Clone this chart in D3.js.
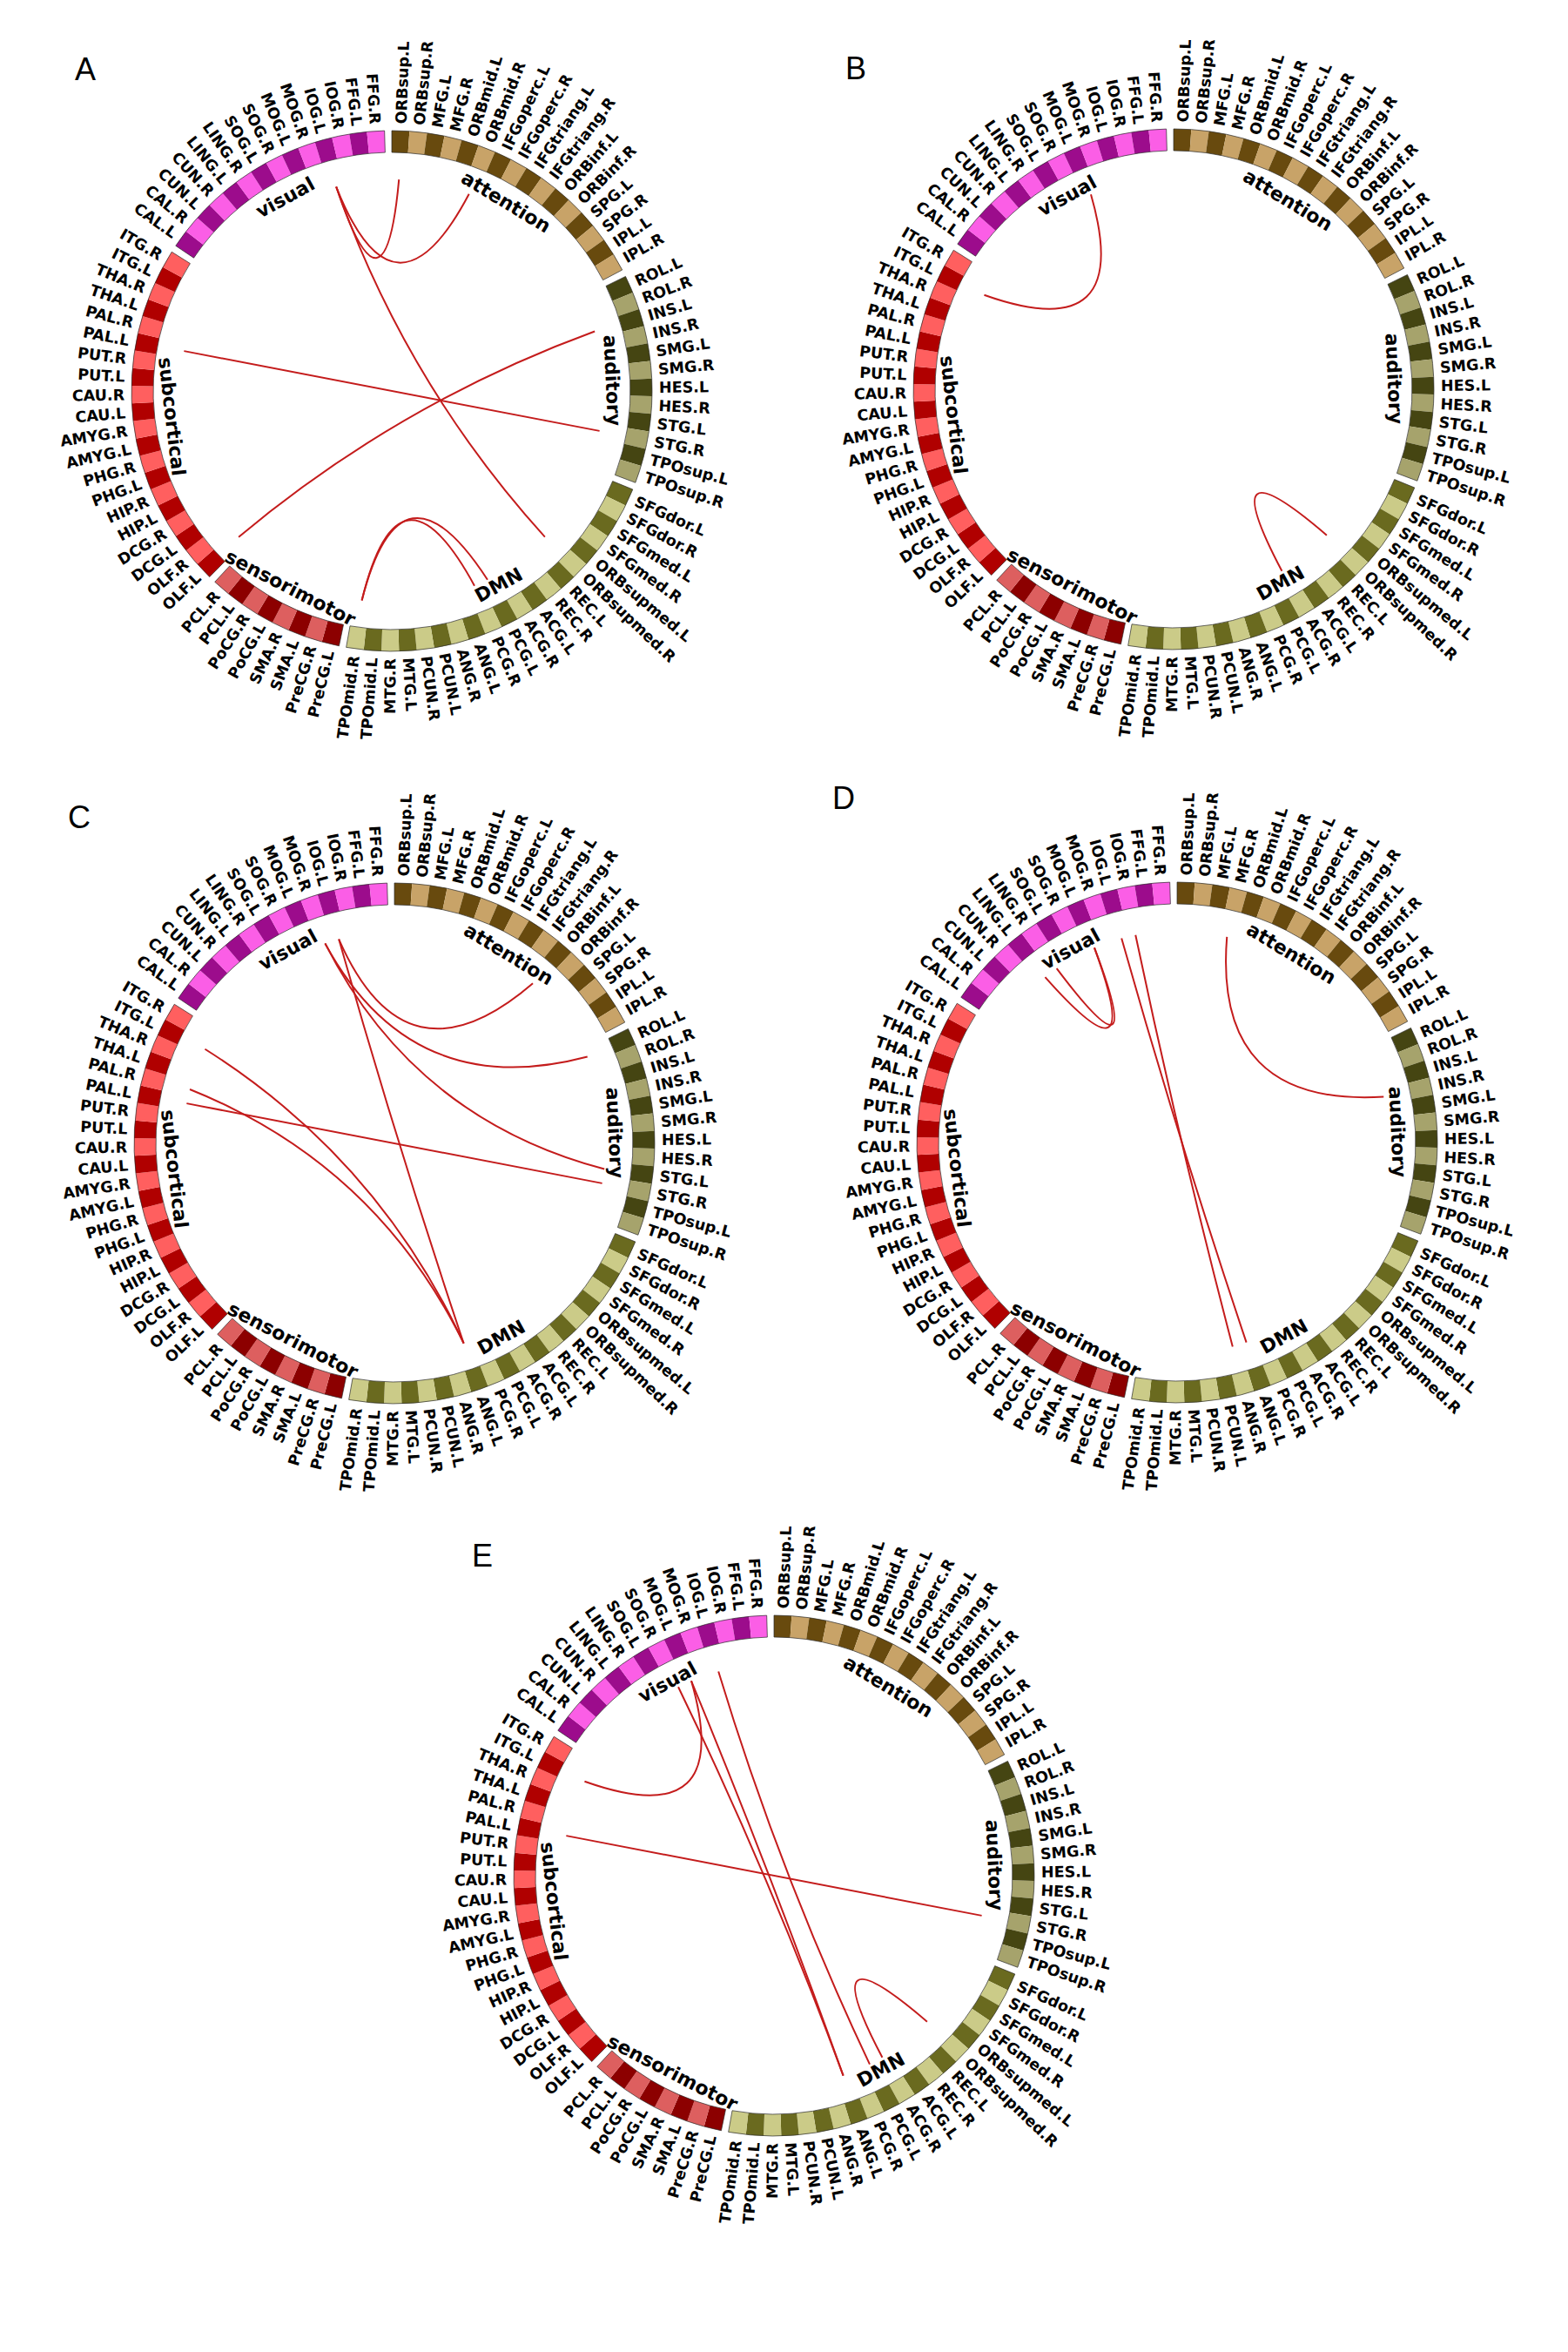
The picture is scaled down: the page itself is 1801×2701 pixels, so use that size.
<!DOCTYPE html>
<html lang="en">
    <head>
        <meta charset="utf-8">
        <script src="https://d3js.org/d3.v7.min.js"></script>
        <title>connectograms</title>
        <style>
            body { margin: 0; background: #fff; }
        </style>
    </head>

    <body>
        <div id="plot-div"></div>
        <script>
            const width = 1801
            const height = 2701

            // AAL regions of each network, listed clockwise
            const attention = ["ORBsup.L", "ORBsup.R", "MFG.L", "MFG.R", "ORBmid.L", "ORBmid.R", "IFGoperc.L", "IFGoperc.R",
                "IFGtriang.L", "IFGtriang.R", "ORBinf.L", "ORBinf.R", "SPG.L", "SPG.R", "IPL.L", "IPL.R"]
            const auditory = ["ROL.L", "ROL.R", "INS.L", "INS.R", "SMG.L", "SMG.R", "HES.L", "HES.R", "STG.L", "STG.R", "TPOsup.L", "TPOsup.R"]
            const dmn = ["SFGdor.L", "SFGdor.R", "SFGmed.L", "SFGmed.R", "ORBsupmed.L", "ORBsupmed.R", "REC.L", "REC.R", "ACG.L", "ACG.R",
                "PCG.L", "PCG.R", "ANG.L", "ANG.R", "PCUN.L", "PCUN.R", "MTG.L", "MTG.R", "TPOmid.L", "TPOmid.R"]
            const sensorimotor = ["PreCG.L", "PreCG.R", "SMA.L", "SMA.R", "PoCG.L", "PoCG.R", "PCL.L", "PCL.R"]
            const subcortical = ["OLF.L", "OLF.R", "DCG.L", "DCG.R", "HIP.L", "HIP.R", "PHG.L", "PHG.R", "AMYG.L", "AMYG.R",
                "CAU.L", "CAU.R", "PUT.L", "PUT.R", "PAL.L", "PAL.R", "THA.L", "THA.R", "ITG.L", "ITG.R"]
            const visual = ["CAL.L", "CAL.R", "CUN.L", "CUN.R", "LING.L", "LING.R", "SOG.L", "SOG.R", "MOG.L", "MOG.R",
                "IOG.L", "IOG.R", "FFG.L", "FFG.R"]

            const networkNames = ["attention", "auditory", "DMN", "sensorimotor", "subcortical", "visual"]
            const networkRegions = [attention, auditory, dmn, sensorimotor, subcortical, visual]

            // connections shown in each panel
            const panelNames = ["A", "B", "C", "D", "E"]
            const edgesA = [["IOG.L", "ORBsup.L"], ["IOG.L", "ORBmid.R"], ["IOG.L", "ORBsupmed.R"], ["PAL.L", "STG.R"],
                ["OLF.L", "INS.L"], ["TPOmid.R", "PCG.L"], ["TPOmid.R", "PCG.R"]]
            const edgesB = [["MOG.L", "ITG.L"], ["ACG.R", "ORBsupmed.R"]]
            const edgesC = [["IOG.L", "ORBinf.L"], ["MOG.R", "ROL.L"], ["MOG.R", "STG.L"], ["IOG.L", "ANG.L"],
                ["ITG.L", "ANG.L"], ["PAL.R", "ANG.L"], ["PAL.L", "STG.R"]]
            const edgesD = [["LING.L", "MOG.L"], ["LING.R", "MOG.L"], ["IOG.L", "ANG.L"], ["IOG.R", "ANG.R"], ["MFG.R", "INS.R"]]
            const edgesE = [["MOG.L", "ITG.L"], ["SOG.R", "ANG.L"], ["MOG.L", "ANG.L"], ["IOG.L", "PCG.L"],
                ["PAL.L", "STG.R"], ["ACG.R", "ORBsupmed.R"]]
            const panelEdges = [edgesA, edgesB, edgesC, edgesD, edgesE]

            // layout + styles
            const centers = [[450, 449], [1348, 447], [453, 1313], [1352, 1312], [889, 2154]]
            const letterPos = [[98, 92], [983, 91], [91, 951], [969, 929], [554, 1799]]
            const darkColor = {attention: "#684a0e", auditory: "#454512", DMN: "#6a6a1f", sensorimotor: "#8c0000", subcortical: "#b00000", visual: "#9c0c8c"}
            const lightColor = {attention: "#c8a368", auditory: "#a6a36c", DMN: "#cbcb88", sensorimotor: "#dd5f5f", subcortical: "#ff5f5f", visual: "#fb5ee6"}

            const rInner = 274
            const rOuter = 299
            const rLabel = 307
            const rName = 254
            const rChord = 243
            const gapUnits = 0.41
            const pull = 0.28

            // one unit per region plus a small gap after each network
            let regions = []
            let nets = []
            let u = 0
            networkRegions.forEach((list, i) => {
                nets.push({name: networkNames[i], start: u, end: u + list.length})
                list.forEach((name, j) => {
                    regions.push({name: name, network: networkNames[i], idx: j, start: u + j, end: u + j + 1})
                })
                u += list.length + gapUnits
            })

            let angle = d3.scaleLinear()
                .domain([0, u])
                .range([0, 2 * Math.PI])

            let byName = {}
            regions.forEach(r => byName[r.name] = r)

            let midAngle = d => angle((d.start + d.end) / 2)
            let toDeg = a => a * 180 / Math.PI

            let arc = d3.arc()
                .innerRadius(rInner)
                .outerRadius(rOuter)
                .startAngle(d => angle(d.start))
                .endAngle(d => angle(d.end))

            let point = (name, r) => {
                let a = midAngle(byName[name])
                return [r * Math.sin(a), -r * Math.cos(a)]
            }

            var svg = d3.select("#plot-div")
                .append("svg")
                .attr("width", width)
                .attr("height", height)
                .attr("viewBox", [0, 0, width, height])

            svg.append("rect")
                .attr("width", width)
                .attr("height", height)
                .attr("fill", "#fff")

            let drawPanel = (k) => {
                let g = svg.append("g")
                    .attr("transform", `translate(${centers[k][0]},${centers[k][1]})`)

                // ring segments
                g.append("g")
                    .selectAll("path")
                    .data(regions)
                    .join("path")
                    .attr("d", arc)
                    .attr("fill", d => d.idx % 2 === 0 ? darkColor[d.network] : lightColor[d.network])

                g.append("g")
                    .selectAll("path")
                    .data(nets)
                    .join("path")
                    .attr("d", arc)
                    .attr("fill", "none")
                    .attr("stroke", "#2a2a2a")
                    .attr("stroke-width", 0.7)

                // region labels
                g.append("g")
                    .selectAll("text")
                    .data(regions)
                    .join("text")
                    .attr("transform", d => {
                        let deg = toDeg(midAngle(d))
                        return `rotate(${deg - 90}) translate(${rLabel},0)` + (deg > 180 ? " rotate(180)" : "")
                    })
                    .attr("text-anchor", d => toDeg(midAngle(d)) > 180 ? "end" : "start")
                    .attr("dy", "0.36em")
                    .attr("font-family", "DejaVu Sans")
                    .attr("font-weight", "bold")
                    .attr("font-size", 17.5)
                    .attr("fill", "#000")
                    .text(d => d.name)

                // network names inside the ring
                g.append("g")
                    .selectAll("text")
                    .data(nets)
                    .join("text")
                    .attr("transform", d => {
                        let a = midAngle(d)
                        let deg = toDeg(a)
                        let rot = (deg > 90 && deg < 270) ? deg - 180 : deg
                        return `translate(${rName * Math.sin(a)},${-rName * Math.cos(a)}) rotate(${rot})`
                    })
                    .attr("text-anchor", "middle")
                    .attr("dy", "0.36em")
                    .attr("font-family", "DejaVu Sans")
                    .attr("font-weight", "bold")
                    .attr("font-size", 22)
                    .attr("fill", "#000")
                    .text(d => d.name)

                // connections: quadratic curves pulled toward the centre
                g.append("g")
                    .selectAll("path")
                    .data(panelEdges[k])
                    .join("path")
                    .attr("d", e => {
                        let p0 = point(e[0], rChord)
                        let p2 = point(e[1], rChord)
                        let c = [pull * (p0[0] + p2[0]) / 2, pull * (p0[1] + p2[1]) / 2]
                        let p = d3.path()
                        p.moveTo(p0[0], p0[1])
                        p.quadraticCurveTo(c[0], c[1], p2[0], p2[1])
                        return p.toString()
                    })
                    .attr("fill", "none")
                    .attr("stroke", "#c41c1c")
                    .attr("stroke-width", 2)

                svg.append("text")
                    .attr("x", letterPos[k][0])
                    .attr("y", letterPos[k][1])
                    .attr("text-anchor", "middle")
                    .attr("font-family", "Liberation Sans")
                    .attr("font-size", 36)
                    .attr("fill", "#000")
                    .text(panelNames[k])
            }

            panelNames.forEach((n, k) => drawPanel(k))
        </script>
    </body>
</html>
